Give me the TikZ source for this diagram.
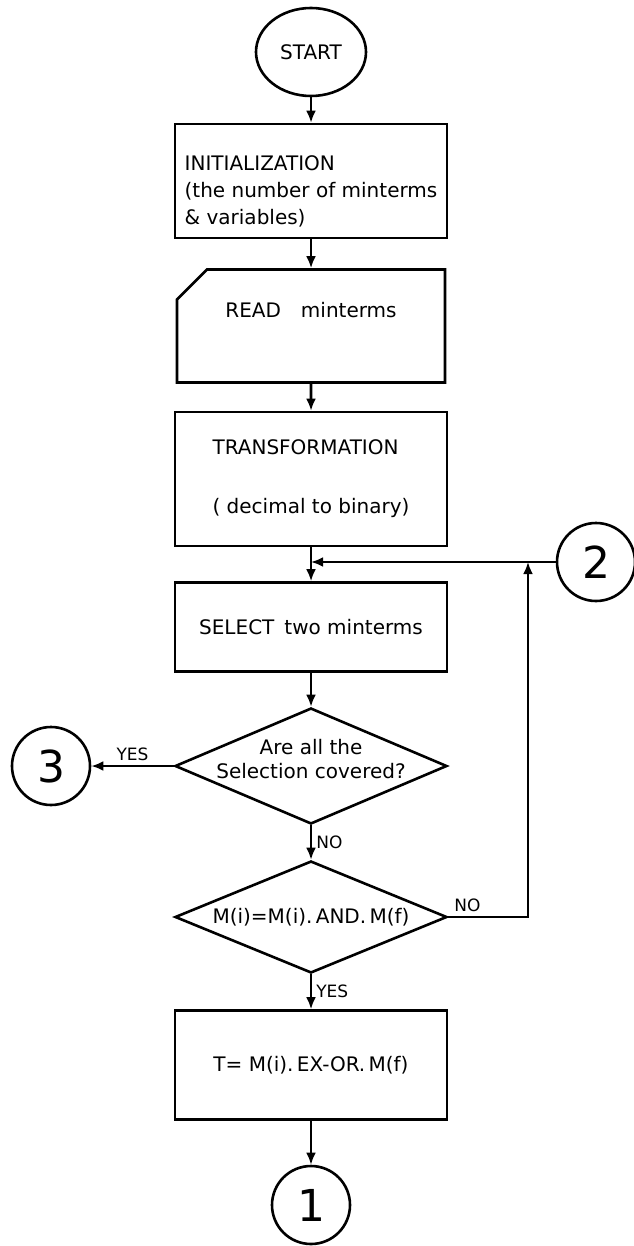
\documentclass[tikz,border=0pt]{standalone}
\usepackage{fontspec}
\setmainfont{DejaVu Sans}
\usetikzlibrary{shapes.geometric,shapes.misc,arrows.meta}

\begin{document}
\begin{tikzpicture}
    [x=1pt, y=-1pt, line width=2.6pt,
     every node/.style={font=\fontsize{20}{27}\selectfont},
     terminal/.style={ellipse, draw, minimum width=110pt, minimum height=88pt, inner sep=0pt},
     process/.style={rectangle, draw, minimum width=272pt, align=left},
     card/.style={chamfered rectangle, chamfered rectangle corners=north west,
                  chamfered rectangle xsep=15pt, chamfered rectangle ysep=15pt,
                  draw, minimum width=268pt, minimum height=113pt},
     decision/.style={diamond, draw, aspect=2.3, minimum width=272pt, minimum height=116pt,
                      inner sep=-20pt, align=center},
     connector/.style={circle, draw, minimum size=78pt, inner sep=0pt, font=\fontsize{44}{44}\selectfont},
     answer/.style={font=\fontsize{17}{17}\selectfont, inner sep=4pt},
     edge/.style={draw, -{Latex[length=12pt, width=10pt]}}]
    \useasboundingbox (0,0) rectangle (633,1246);
    % Define nodes
    \node[terminal] (start) at (311,52) {START};
    \node[process, minimum height=114pt] (init) at (311,181)
        {\rule{0pt}{36pt}INITIALIZATION\\(the number of minterms\\\& variables)};
    \node[card, text height=15pt, text depth=33pt] (read) at (311,326) {READ\quad minterms};
    \node[process, minimum height=134pt] (trans) at (311,479)
        {TRANSFORMATION\\[32pt]( decimal to binary)};
    \coordinate (join) at (311,562);
    \node[process, minimum height=89pt] (select) at (311,627) {SELECT\enspace two minterms};
    \node[decision] (test) at (311,766)
        {Are all the\\[-3pt]Selection covered?\rule[-14pt]{0pt}{0pt}};
    \node[decision, minimum height=112pt] (compare) at (311,917) {M(i)=M(i).\,AND.\,M(f)};
    \node[process, minimum height=109pt] (result) at (311,1065) {T= M(i).\,EX-OR.\,M(f)};
    \node[connector] (c1) at (311,1205) {1};
    \node[connector] (c2) at (596,562) {2};
    \node[connector] (c3) at (51,766) {3};
    \coordinate (back) at (528,562);
    % Define edges
    \draw[edge] (start) -- (init);
    \draw[edge] (init) -- (read);
    \draw[edge] (read) -- (trans);
    \draw[edge] (trans) -- (select);
    \draw[edge] (c2) -- (join);
    \draw[edge] (select) -- (test);
    \draw[edge] (test) -- node[answer, above] {YES} (c3);
    \draw[edge] (test) -- node[answer, right] {NO} (compare);
    \draw[edge] (compare) -- node[answer, right] {YES} (result);
    \draw[edge] (result) -- (c1);
    \draw[edge] (compare.east) -| node[answer, above, pos=0.12] {NO} (back);
\end{tikzpicture}
\end{document}
